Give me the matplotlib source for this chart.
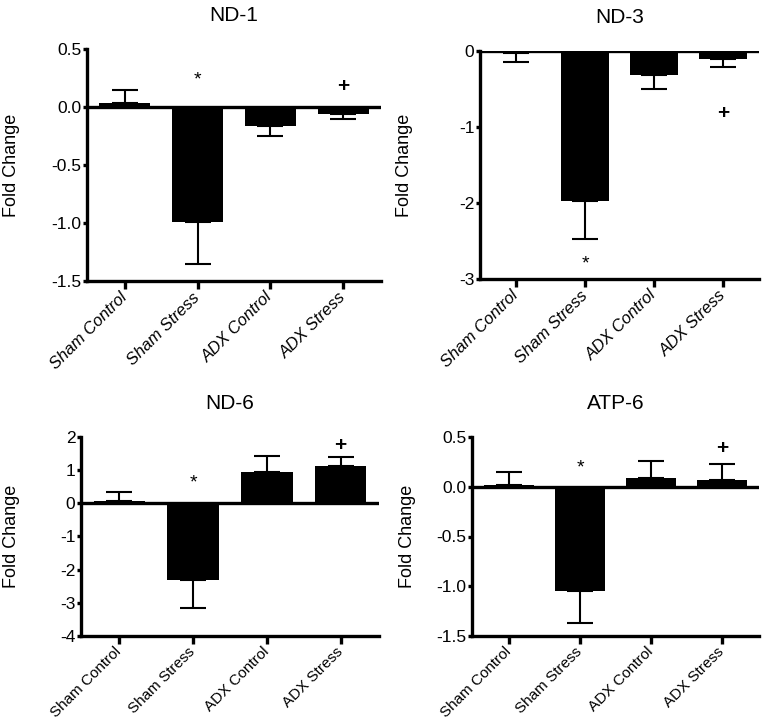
import numpy as np
import matplotlib
matplotlib.use("Agg")
import matplotlib.pyplot as plt
from matplotlib.transforms import ScaledTranslation

plt.rcParams["font.family"] = ["Liberation Sans", "DejaVu Sans"]
plt.rcParams["axes.unicode_minus"] = False

groups = ["Sham Control", "Sham Stress", "ADX Control", "ADX Stress"]

# mean fold change and one-sided SEM (drawn away from zero)
nd1_mean = [0.034, -0.99, -0.163, -0.057]
nd1_err = [0.115, 0.36, 0.087, 0.043]
nd3_mean = [-0.03, -1.97, -0.32, -0.105]
nd3_err = [0.12, 0.51, 0.18, 0.105]
nd6_mean = [0.06, -2.32, 0.94, 1.12]
nd6_err = [0.27, 0.85, 0.50, 0.27]
atp6_mean = [0.02, -1.045, 0.092, 0.065]
atp6_err = [0.126, 0.32, 0.164, 0.161]

# significance marks: (group index, y, symbol)
nd1_marks = [(1, 0.23, "*"), (3, 0.18, "+")]
nd3_marks = [(1, -2.80, "*"), (3, -0.82, "+")]
nd6_marks = [(1, 0.62, "*"), (3, 1.74, "+")]
atp6_marks = [(1, 0.19, "*"), (3, 0.38, "+")]

W, H = 762, 720
# title, data, ylim, ticks, fmt, axes box in pixels (left, top, right, bottom),
# ylabel right edge px, italic labels
panels = [
    ("ND-1", nd1_mean, nd1_err, nd1_marks, (-1.5, 0.5), np.arange(-1.5, 0.51, 0.5), "%.1f",
     (87, 49, 381, 281), 20, True),
    ("ND-3", nd3_mean, nd3_err, nd3_marks, (-3, 0), np.arange(-3, 0.1, 1), "%d",
     (480, 51, 759, 279), 413, True),
    ("ND-6", nd6_mean, nd6_err, nd6_marks, (-4, 2), np.arange(-4, 2.1, 1), "%d",
     (81, 437, 379, 636), 20, False),
    ("ATP-6", atp6_mean, atp6_err, atp6_marks, (-1.5, 0.5), np.arange(-1.5, 0.51, 0.5), "%.1f",
     (472, 437, 759, 636), 416, False),
]

fig = plt.figure(figsize=(W / 100, H / 100), dpi=100)
shift = ScaledTranslation(3 / 100, 0, fig.dpi_scale_trans)

for title, mean, err, marks, ylim, yticks, fmt, box, ylab_x, italic in panels:
    l, t, r, b = box
    ax = fig.add_axes([l / W, 1 - b / H, (r - l) / W, (b - t) / H])
    x = np.arange(len(groups))
    mean = np.array(mean)
    err = np.array(err)
    lower = np.where(mean < 0, err, 0)
    upper = np.where(mean >= 0, err, 0)
    ax.bar(x, mean, width=0.7, color="black", zorder=2)
    ax.errorbar(x, mean, yerr=[lower, upper], fmt="none", ecolor="black",
                elinewidth=1.5, capsize=9.4, capthick=1.5, zorder=1)
    ax.axhline(0, color="black", lw=2.4, zorder=3)
    for i, yv, sym in marks:
        if sym == "+":
            ax.text(i, yv, sym, ha="center", va="center", fontsize=15, fontweight="bold")
        else:
            ax.text(i, yv, sym, ha="center", va="center", fontsize=14)
    ax.set_xlim(-0.52, 3.52)
    ax.set_ylim(*ylim)
    ax.set_yticks(yticks)
    ax.set_yticklabels([fmt % v for v in yticks])
    ax.set_xticks(x)
    ax.set_xticklabels(groups, rotation=45, ha="right", va="center", rotation_mode="anchor",
                       fontsize=12 if italic else 11, style="italic" if italic else "normal")
    for lab in ax.get_xticklabels():
        lab.set_transform(lab.get_transform() + shift)
    ax.spines["top"].set_visible(False)
    ax.spines["right"].set_visible(False)
    ax.spines["left"].set_linewidth(2.4)
    ax.spines["bottom"].set_linewidth(2.4)
    ax.tick_params(axis="x", length=6, width=2.4, pad=4)
    ax.tick_params(axis="y", length=3, width=2.4, pad=1, labelsize=12.5)
    ax.set_ylabel("Fold Change", fontsize=13)
    ax.yaxis.set_label_coords((ylab_x - l) / (r - l), 0.5)
    ax.set_title(title, fontsize=15, pad=20)

fig.savefig("out.png", dpi=100)
